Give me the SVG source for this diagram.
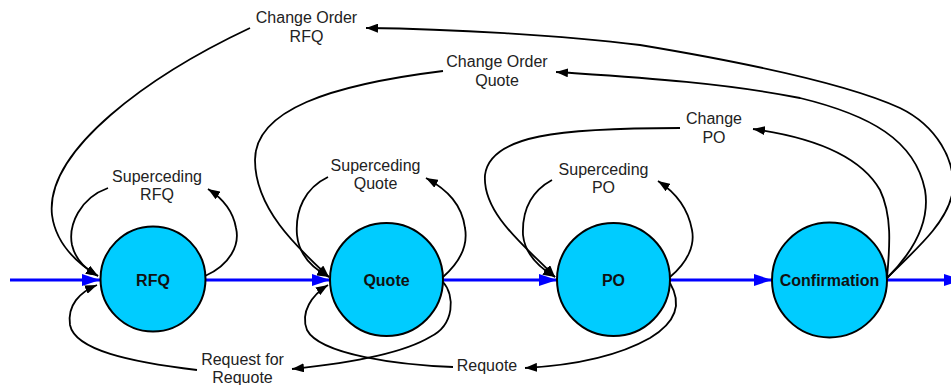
<svg xmlns="http://www.w3.org/2000/svg" width="951" height="385" viewBox="0 0 951 385">
<defs>
<marker id="ab" markerUnits="userSpaceOnUse" markerWidth="12" markerHeight="9" refX="12" refY="4.5" orient="auto"><path d="M0,0 L12,4.5 L0,9 z" fill="#000"/></marker>
<marker id="ablue" markerUnits="userSpaceOnUse" markerWidth="18" markerHeight="12" refX="18" refY="6" orient="auto"><path d="M0,0 L18,6 L0,12 z" fill="#0000ff"/></marker>
<style>
.flow{fill:none;stroke:#0000ff;stroke-width:3;marker-end:url(#ablue)}
.c{fill:none;stroke:#000;stroke-width:1.8}
.a{marker-end:url(#ab)}
.node{fill:#00ccff;stroke:#000;stroke-width:2}
.nl{font-family:"Liberation Sans",Arial,sans-serif;font-size:16px;font-weight:bold;fill:#111;text-anchor:middle}
.lb{font-family:"Liberation Sans",Arial,sans-serif;font-size:16px;fill:#222;text-anchor:middle}
</style>
</defs>
<rect width="951" height="385" fill="#fff"/>
<g id="connectors">
<path class="flow" d="M10,280 L100,280"/>
<path class="flow" d="M205,280 L330,280"/>
<path class="flow" d="M443,280 L557,280"/>
<path class="flow" d="M670,280 L772,280"/>
<path class="flow" d="M887,280 L962,280"/>
<!-- Superceding RFQ -->
<path class="c a" d="M205,276 C230,265 240,245 236,228 C233,210 222,198 208,189"/>
<path class="c a" d="M108,188 C80,198 68,225 72,245 C76,262 88,270 98,276"/>
<!-- Change Order RFQ -->
<path class="c a" d="M887,278 C915,250 945,225 952,195 C958,160 935,125 900,108 C850,85 760,65 640,45 C560,35 450,29 366,28"/>
<path class="c a" d="M250,28 C150,75 45,150 52,215 C56,245 80,265 98,276"/>
<!-- Superceding Quote -->
<path class="c a" d="M443,277 C460,262 468,245 465,228 C462,205 448,190 426,178"/>
<path class="c a" d="M328,177 C305,188 295,210 297,235 C299,255 312,268 329,277"/>
<!-- Change Order Quote -->
<path class="c a" d="M887,278 C915,250 930,220 925,190 C915,140 870,115 800,98 C720,82 630,77 556,72"/>
<path class="c a" d="M443,71 C330,85 255,110 255,160 C255,210 300,250 329,277"/>
<!-- Superceding PO -->
<path class="c a" d="M670,277 C688,262 695,245 692,230 C688,208 675,192 658,181"/>
<path class="c a" d="M552,180 C530,192 522,212 523,235 C525,255 540,268 555,277"/>
<!-- Change PO -->
<path class="c a" d="M887,278 C890,245 892,215 880,190 C860,155 810,137 753,129"/>
<path class="c a" d="M680,128 C560,128 490,135 485,175 C482,215 530,250 555,277"/>
<!-- Request for Requote -->
<path class="c a" d="M443,282 C455,295 455,325 430,337 C405,352 360,362 292,369"/>
<path class="c a" d="M197,370 C130,362 75,350 70,325 C67,305 80,292 97,285"/>
<!-- Requote -->
<path class="c a" d="M670,283 C680,300 680,320 650,338 C620,355 580,365 525,368"/>
<path class="c a" d="M453,367 C400,365 320,355 307,330 C300,312 312,295 328,285"/>
</g>
<g id="node-rfq"><circle class="node" cx="153" cy="279" r="52.5"/><text class="nl" x="153" y="286">RFQ</text></g>
<g id="node-quote"><circle class="node" cx="386.5" cy="279.5" r="56.5"/><text class="nl" x="386.5" y="286">Quote</text></g>
<g id="node-po"><circle class="node" cx="613.5" cy="279.5" r="56.5"/><text class="nl" x="613.5" y="286">PO</text></g>
<g id="node-confirmation"><circle class="node" cx="829.5" cy="280" r="57.5"/><text class="nl" x="829.5" y="286">Confirmation</text></g>
<g id="labels">
<text class="lb" x="306.5" y="23">Change Order</text><text class="lb" x="306.5" y="42">RFQ</text>
<text class="lb" x="497" y="67">Change Order</text><text class="lb" x="497" y="86">Quote</text>
<text class="lb" x="714" y="124">Change</text><text class="lb" x="714" y="143">PO</text>
<text class="lb" x="157" y="182">Superceding</text><text class="lb" x="157" y="200">RFQ</text>
<text class="lb" x="375.5" y="171">Superceding</text><text class="lb" x="375.5" y="189">Quote</text>
<text class="lb" x="603.5" y="175">Superceding</text><text class="lb" x="603.5" y="193">PO</text>
<text class="lb" x="242.5" y="365">Request for</text><text class="lb" x="242.5" y="383">Requote</text>
<text class="lb" x="487" y="371">Requote</text>
</g>
</svg>
